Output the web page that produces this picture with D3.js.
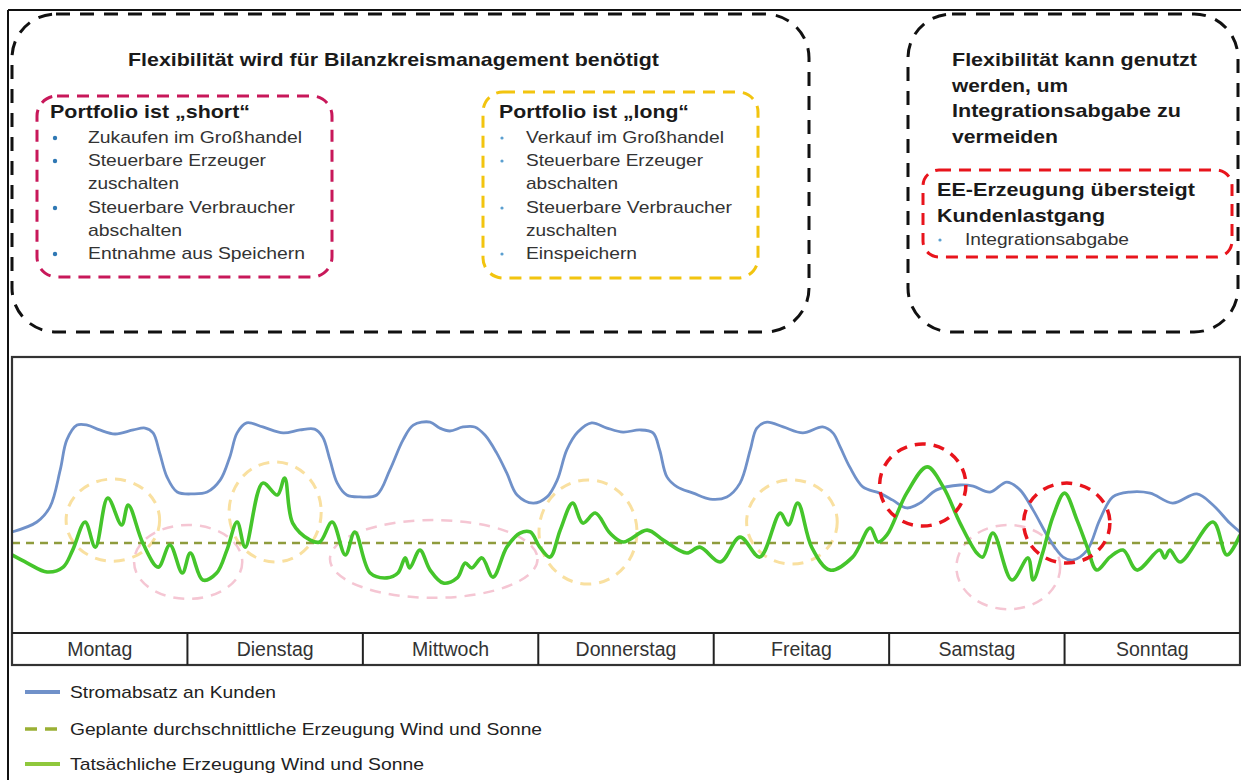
<!DOCTYPE html>
<html><head><meta charset="utf-8">
<script src="https://cdn.jsdelivr.net/npm/d3@7"></script>
<style>
body{margin:0;background:#fff}
svg{display:block}
text{font-family:"Liberation Sans", Arial, sans-serif}
</style>
</head><body>
<svg id="c" width="1241" height="780"></svg>
<script>
// ---------- DATA ----------
const days = ["Montag","Dienstag","Mittwoch","Donnerstag","Freitag","Samstag","Sonntag"];

// Stromabsatz an Kunden (hour of week, relative level)
const blueHours = [0,3.4,5.2,6.6,7.5,8.9,10.3,12.0,14.1,16.6,18.2,19.3,20.2,21.2,22.6,24.8,26.7,28.5,29.8,30.8,32.1,34.3,37.1,39.4,41.4,42.5,43.5,44.5,45.8,47.6,49.9,51.7,53.5,54.9,57.2,58.5,59.9,61.7,63.3,64.7,66.3,67.7,69.1,71.3,73.2,74.6,75.9,77.4,79.3,81.4,83.6,85.9,87.7,88.6,89.6,91.0,93.2,95.5,97.8,99.6,101.0,101.9,103.3,105.5,108.2,110.9,112.3,113.3,114.6,116.4,118.7,120.5,122.4,124.2,126.5,129.7,131.5,133.8,136.1,137.9,139.7,142.0,143.8,145.1,147.1,148.8,150.6,152.9,155.7,158.8,162.1,164.3,166.6,168];
const blueValues = [36.3,40.0,45.6,59.3,70.4,75.9,75.9,74.1,72.6,74.1,74.8,73.0,65.6,56.7,51.1,50.4,51.1,55.6,64.1,73.0,76.7,75.2,73.0,74.1,74.4,71.5,63.0,54.4,50.0,49.3,50.0,59.3,70.4,75.9,77.0,74.8,73.7,75.2,75.2,72.2,65.6,58.1,50.0,47.0,49.3,55.6,66.7,73.3,76.7,74.8,73.3,74.1,73.0,66.7,56.7,53.0,50.7,48.5,49.3,54.4,66.7,74.8,77.0,75.2,73.0,75.2,73.0,67.8,60.4,53.0,50.7,48.1,45.2,47.0,51.9,53.7,53.3,51.1,54.8,51.9,44.4,33.3,27.0,25.9,29.6,40.7,49.3,51.1,50.7,47.0,50.4,46.3,39.6,36.3];

// Tatsächliche Erzeugung Wind und Sonne
const greenHours = [0,2.1,4.8,7.0,8.3,10.0,11.4,13.1,15.0,15.9,17.9,20.0,21.6,23.3,24.4,26.1,28.0,29.4,30.8,31.9,34.3,36.3,37.3,38.4,40.8,42.1,43.8,45.6,46.9,49.0,51.3,52.8,53.8,54.4,55.8,57.2,59.0,60.9,62.0,62.9,64.3,65.8,67.7,69.5,70.9,72.2,73.6,75.0,76.7,78.1,79.8,81.8,83.6,86.9,89.1,92.3,94.1,96.9,99.6,102.3,105.1,106.2,107.5,109.4,111.9,115.0,117.4,118.5,119.7,122.4,125.2,127.4,129.7,132.0,132.8,134.2,136.8,139.0,139.7,141.0,142.4,144.0,145.7,147.1,148.4,150.2,152.0,153.9,157.0,157.7,158.4,159.8,164.3,166.2,168];
const greenValues = [27.8,24.8,21.5,23.3,29.6,40.0,30.7,48.9,38.9,46.3,32.2,23.3,31.5,21.1,28.5,18.5,21.1,29.6,40.0,30.7,54.4,50.0,56.3,39.6,33.3,32.6,40.0,27.8,36.3,21.1,19.3,21.1,26.7,23.0,29.6,22.2,17.4,19.3,24.8,23.0,26.7,19.6,30.7,35.9,36.3,30.7,27.0,37.0,47.0,39.6,43.3,35.9,32.6,37.0,33.3,28.5,30.7,25.2,34.4,27.0,43.3,38.9,47.0,30.7,22.2,27.0,37.8,32.6,35.2,50.7,60.4,53.0,39.6,28.5,27.0,35.9,18.5,26.7,18.5,28.5,41.9,50.7,40.7,30.7,22.2,27.0,29.6,22.2,29.6,26.7,29.6,25.2,40.0,27.8,35.2];

// Geplante durchschnittliche Erzeugung
const plannedValue = 32.2;

// highlighted regions: [centre hour, centre value, half span hours, half span value]
const longRegions  = [[13.8,40.7,6.4,15.2],[36.0,43.7,6.3,18.5],[78.8,36.3,6.7,19.3],[106.7,40.0,6.2,15.6]];
const shortRegions = [[24.1,25.2,7.4,13.7],[57.7,26.3,14.2,14.4],[136.3,23.3,7.1,15.6]];
const excessRegions = [[124.6,53.7,5.9,15.2],[144.3,39.6,5.9,14.8]];

const legendLabels = ["Stromabsatz an Kunden","Geplante durchschnittliche Erzeugung Wind und Sonne","Tatsächliche Erzeugung Wind und Sonne"];

const mainTitle = "Flexibilität wird für Bilanzkreismanagement benötigt";
const shortTitle = "Portfolio ist „short“";
const shortItems = [["Zukaufen im Großhandel"],["Steuerbare Erzeuger","zuschalten"],["Steuerbare Verbraucher","abschalten"],["Entnahme aus Speichern"]];
const longTitle = "Portfolio ist „long“";
const longItems = [["Verkauf im Großhandel"],["Steuerbare Erzeuger","abschalten"],["Steuerbare Verbraucher","zuschalten"],["Einspeichern"]];
const rightTitle = ["Flexibilität kann genutzt","werden, um","Integrationsabgabe zu","vermeiden"];
const eeTitle = ["EE-Erzeugung übersteigt","Kundenlastgang"];
const eeItems = ["Integrationsabgabe"];

// ---------- DRAW ----------
const svg = d3.select("#c");
const x = d3.scaleLinear().domain([0,168]).range([12,1240]);
const y = d3.scaleLinear().domain([0,100]).range([630,360]);

function txt(str, tx, ty, size, weight, fill, len, anchor){
  const t = svg.append("text").attr("x",tx).attr("y",ty)
    .attr("font-size",size).attr("font-weight",weight||"normal")
    .attr("fill",fill||"#222").text(str);
  if(anchor) t.attr("text-anchor",anchor);
  if(len) t.attr("textLength",len).attr("lengthAdjust","spacingAndGlyphs");
  return t;
}
function box(x0,y0,x1,y1,r,color,w,dash){
  svg.append("rect").attr("x",x0).attr("y",y0).attr("width",x1-x0).attr("height",y1-y0)
    .attr("rx",r).attr("ry",r).attr("fill","none").attr("stroke",color)
    .attr("stroke-width",w).attr("stroke-dasharray",dash);
}

// page frame
svg.append("line").attr("x1",8).attr("x2",1241).attr("y1",10).attr("y2",10).attr("stroke","#111").attr("stroke-width",2);
svg.append("line").attr("x1",8).attr("x2",8).attr("y1",10).attr("y2",780).attr("stroke","#111").attr("stroke-width",2);

// top boxes
box(12,14,809,332,44,"#111",3,"14 10");
box(908,14,1238,332,44,"#111",3,"14 10");
box(37,96,332,277,20,"#c8185a",3,"12 8");
box(483,92,758,278,20,"#f2c40f",3,"12 8");
box(923,170,1232,257,16,"#e8141c",3,"12 8");

// texts top-left
txt(mainTitle,128,66,19,"bold","#1a1a1a",531);
txt(shortTitle,50,118,19,"bold","#1a1a1a",200);
const shortWidths = [[214],[178,91],[207,94],[217]];
const longWidths = [[198],[177,92],[206,91],[111]];
const lineY = [143,166,189,213,236,259];
function bulletList(items, widths, bx, tx, dotR, dotColor){
  let li = 0;
  items.forEach((lines,i)=>{
    svg.append("circle").attr("cx",bx).attr("cy",lineY[li]-5).attr("r",dotR).attr("fill",dotColor);
    lines.forEach((s,j)=>{ txt(s,tx,lineY[li],17,"normal","#333",widths[i][j]); li++; });
  });
}
bulletList(shortItems, shortWidths, 55, 88, 2.2, "#2f78b4");
txt(longTitle,499,118,19,"bold","#1a1a1a",190);
bulletList(longItems, longWidths, 502, 526, 1.6, "#5a9fd0");

// right box texts
const rightW = [245,116,229,106];
rightTitle.forEach((s,i)=>txt(s,952,66+i*25.7,19,"bold","#1a1a1a",rightW[i]));
const eeW = [258,168];
eeTitle.forEach((s,i)=>txt(s,937,196+i*26,19,"bold","#1a1a1a",eeW[i]));
svg.append("circle").attr("cx",940).attr("cy",240).attr("r",1.6).attr("fill","#5a9fd0");
txt(eeItems[0],965,245,16,"normal","#333",164);

// ---------- chart ----------
const chart = svg.append("g");
function drawRegions(list,color,w,dash){
  chart.selectAll(null).data(list).enter().append("ellipse")
    .attr("cx",d=>x(d[0])).attr("cy",d=>y(d[1]))
    .attr("rx",d=>x(d[0]+d[2])-x(d[0])).attr("ry",d=>y(d[1]-d[3])-y(d[1]))
    .attr("fill","none").attr("stroke",color).attr("stroke-width",w).attr("stroke-dasharray",dash);
}
drawRegions(longRegions,"#f9e0a0",3,"11 8");
drawRegions(shortRegions,"#f5c6d3",2.5,"11 8");

// planned line
chart.append("line").attr("x1",x(0)).attr("x2",x(168)).attr("y1",y(plannedValue)).attr("y2",y(plannedValue))
  .attr("stroke","#8f9c3e").attr("stroke-width",2.5).attr("stroke-dasharray","8 6");

const line = d3.line().curve(d3.curveCatmullRom.alpha(0.5)).x(d=>x(d[0])).y(d=>y(d[1]));
chart.append("path").datum(blueHours.map((h,i)=>[h,blueValues[i]]))
  .attr("d",line).attr("fill","none").attr("stroke","#7091c9").attr("stroke-width",2.8);
chart.append("path").datum(greenHours.map((h,i)=>[h,greenValues[i]]))
  .attr("d",line).attr("fill","none").attr("stroke","#45c52b").attr("stroke-width",3.6).attr("stroke-linejoin","round");

drawRegions(excessRegions,"#e8141c",3.5,"11 8");

// chart frame and day row
svg.append("rect").attr("x",12).attr("y",357).attr("width",1228).attr("height",308)
  .attr("fill","none").attr("stroke","#333").attr("stroke-width",2.2);
svg.append("line").attr("x1",12).attr("x2",1240).attr("y1",633).attr("y2",633).attr("stroke","#222").attr("stroke-width",2);
const dayX = d3.scaleLinear().domain([0,7]).range([12,1240]);
days.forEach((d,i)=>{
  if(i>0) svg.append("line").attr("x1",dayX(i)).attr("x2",dayX(i)).attr("y1",633).attr("y2",665).attr("stroke","#222").attr("stroke-width",2);
  txt(d,dayX(i+0.5),656,19.5,"normal","#333",null,"middle");
});

// legend
const legY = [692,729,764];
const legW = [206,472,354];
svg.append("line").attr("x1",25).attr("x2",60).attr("y1",legY[0]).attr("y2",legY[0]).attr("stroke","#7091c9").attr("stroke-width",4);
svg.append("line").attr("x1",25).attr("x2",60).attr("y1",legY[1]).attr("y2",legY[1]).attr("stroke","#9ab034").attr("stroke-width",3.5).attr("stroke-dasharray","12 8");
svg.append("line").attr("x1",25).attr("x2",60).attr("y1",legY[2]).attr("y2",legY[2]).attr("stroke","#8fc83c").attr("stroke-width",4);
legendLabels.forEach((s,i)=>txt(s,70,legY[i]+6,17,"normal","#222",legW[i]));
</script>
</body></html>
